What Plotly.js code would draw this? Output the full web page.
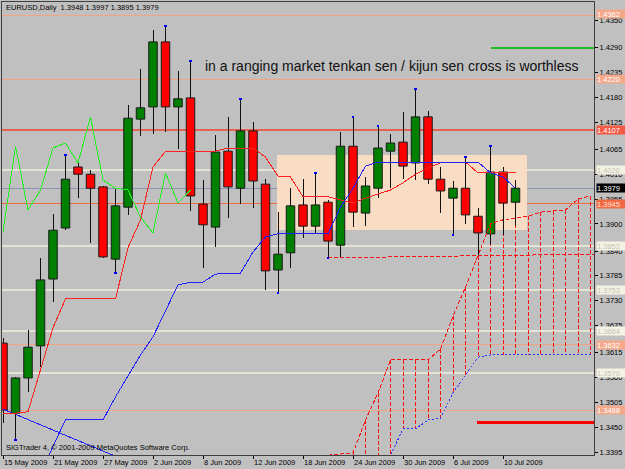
<!DOCTYPE html>
<html><head><meta charset="utf-8">
<script src="https://cdn.plot.ly/plotly-3.0.1.min.js"></script>
<style>html,body{margin:0;padding:0;background:#c0c0c0}#chart{width:625px;height:469px}
#chart .scatterlayer path{shape-rendering:crispEdges !important}
#chart .shapelayer path{shape-rendering:crispEdges}
</style>
</head><body><div id="chart"></div>
<script>
// ---------- data ----------
const symbol = 'EURUSD,Daily';
const lastQuote = [1.3948, 1.3997, 1.3895, 1.3979]; // O H L C of current bar
const dateLabels = ['15 May 2009','21 May 2009','27 May 2009','2 Jun 2009','8 Jun 2009','12 Jun 2009','18 Jun 2009','24 Jun 2009','30 Jun 2009','6 Jul 2009','10 Jul 2009'];
const dateBars = [0,4,8,12,16,20,24,28,32,36,40];
const priceTicks = [1.4350,1.4290,1.4235,1.4180,1.4125,1.4065,1.4010,1.3955,1.3900,1.3840,1.3785,1.3730,1.3675,1.3615,1.3560,1.3505,1.3450,1.3395];

const open  = [1.3636,1.3481,1.3559,1.3630,1.3778,1.3891,1.4026,1.4010,1.3982,1.3822,1.3937,1.4132,1.4159,1.4303,1.4159,1.4179,1.3944,1.3893,1.4061,1.3979,1.4106,1.3988,1.3798,1.3836,1.3942,1.3895,1.3948,1.3853,1.4072,1.3924,1.3979,1.4061,1.4081,1.4035,1.4137,1.3999,1.3957,1.3979,1.3917,1.3878,1.4015,1.3948];
const high  = [1.3647,1.3561,1.3665,1.3825,1.3922,1.4053,1.4037,1.4019,1.3984,1.3979,1.4163,1.4243,1.4329,1.4338,1.4239,1.4261,1.3997,1.4097,1.4137,1.4177,1.4126,1.3999,1.3926,1.3979,1.3999,1.4013,1.3953,1.4103,1.4137,1.4004,1.4117,1.4099,1.4148,1.4199,1.4150,1.4026,1.3995,1.4048,1.3935,1.4072,1.4026,1.3997];
const low   = [1.3459,1.3422,1.3528,1.3583,1.3727,1.3886,1.3957,1.3858,1.3825,1.3791,1.3920,1.4095,1.4099,1.4103,1.4066,1.3929,1.3802,1.3849,1.3913,1.3944,1.3935,1.3754,1.3747,1.3802,1.3869,1.3880,1.3825,1.3827,1.3893,1.3895,1.3957,1.3979,1.3999,1.3997,1.3988,1.3924,1.3875,1.3900,1.3831,1.3855,1.3875,1.3895];
const close = [1.3488,1.3559,1.3627,1.3776,1.3886,1.3999,1.4010,1.3979,1.3827,1.3940,1.4134,1.4157,1.4303,1.4159,1.4177,1.3962,1.3898,1.4059,1.3982,1.4106,1.3995,1.3796,1.3833,1.3940,1.3895,1.3942,1.3862,1.4072,1.3926,1.3984,1.4068,1.4079,1.4028,1.4137,1.3999,1.3973,1.3979,1.3920,1.3880,1.4015,1.3946,1.3979];

const tenkan = [1.3481,1.3481,1.3484,1.3577,1.3670,1.3734,1.3734,1.3734,1.3734,1.3734,1.3847,1.3909,1.4026,1.4061,1.4061,1.4061,1.4061,1.4061,1.4068,1.4068,1.4068,1.4048,1.4006,1.4004,1.3960,1.3960,1.3960,1.3953,1.3946,1.3957,1.3966,1.3975,1.3991,1.4010,1.4024,1.4035,1.4037,1.4037,1.4013,1.4013,1.4013,1.4013];
const kijun  = [null,null,null,1.3344,1.3408,1.3466,1.3466,1.3466,1.3466,1.3517,1.3565,1.3610,1.3650,1.3707,1.3765,1.3771,1.3771,1.3789,1.3790,1.3791,1.3838,1.3871,1.3878,1.3878,1.3878,1.3878,1.3878,1.3937,1.3979,1.4028,1.4037,1.4037,1.4037,1.4037,1.4037,1.4037,1.4037,1.4037,1.4037,1.4013,1.4004,1.3979];
const chikou = [1.3882,1.4072,1.3931,1.3975,1.4068,1.4079,1.4035,1.4137,1.3997,1.3979,1.3975,1.3915,1.3880,1.4013,1.3946,1.3975];
const spanStart = 26;
const spanA = [1.3388,1.3391,1.3393,1.3466,1.3526,1.3599,1.3599,1.3599,1.3599,1.3623,1.3696,1.3760,1.3829,1.3900,1.3909,1.3913,1.3917,1.3926,1.3929,1.3931,1.3955,1.3962];
const spanB = [1.3330,1.3330,1.3330,1.3330,1.3330,1.3388,1.3446,1.3446,1.3466,1.3470,1.3526,1.3565,1.3605,1.3610,1.3610,1.3610,1.3610,1.3610,1.3610,1.3610,1.3610,1.3610];

const fractalUpBars = [5,13,15,19,25,28,30,33,37,39];
const fractalDownBars = [1,9,22,26,36];

// drawn objects
const levels = [1.4362,1.4220,1.4107,1.4020,1.3979,1.3945,1.3852,1.3753,1.3664,1.3632,1.3570,1.3488];
const blueTrendX = [0,10],   blueTrendY = [1.3490,1.3374];
const redTrendX  = [26,47.3], redTrendY = [1.3825,1.3833];
const greenSegX  = [39,47.3], greenSegY = [1.4290,1.4290];
const redSegX    = [37.9,47.3], redSegY = [1.3461,1.3461];
const rectBars = [21.9,41.9], rectPrices = [1.3886,1.4053];

// ---------- styles ----------
const levelColors = ['#f2a486','#f2a486','#e8604e','#e6e2d4','#8a96b4','#f06a40','#e6e2d4','#e6e2d4','#e6e2d4','#f2a486','#e6e2d4','#f2a486'];
const levelWidths = [1,1,2,2,1,1,2,2,2,1,2,1];
const labelBg = ['#f4a88a','#f4a88a','#f05a46','#f4f2e2','#000000','#f26a45','#f4f2e2','#f4f2e2','#f4f2e2','#f4a88a','#f4f2e2','#f4a88a'];
const labelFg = ['#ffffff','#ffffff','#ffffff','#c4c4bc','#ffffff','#ffe0d0','#c4c4bc','#c4c4bc','#c4c4bc','#ffffff','#c4c4bc','#ffffff'];
const FONT = 'Liberation Sans, Arial, sans-serif';

// ---------- build ----------
const idx = open.map((_, i) => i);
const wx = [], wy = [];
idx.forEach(i => {
  const top = Math.max(open[i], close[i]), bot = Math.min(open[i], close[i]);
  wx.push(i, i, null, i, i, null);
  wy.push(high[i], top, null, bot, low[i], null);
});
const bodyBase = idx.map(i => Math.min(open[i], close[i]));
const bodyLen = idx.map(i => Math.max(Math.abs(close[i] - open[i]), 0.00003));
const bodyCol = idx.map(i => close[i] >= open[i] ? '#008000' : '#ff0000');

const spanX = spanA.map((_, i) => spanStart + i);
const hx = [], hy = [];
spanA.forEach((a, i) => { hx.push(spanX[i], spanX[i], null); hy.push(a, spanB[i], null); });

const traces = [
  {type:'bar', x: idx, y: bodyLen, base: bodyBase, width: 0.68,
   marker:{color: bodyCol, line:{color:'#1a1a1a', width:1}}, hoverinfo:'skip'},
  {type:'scatter', mode:'lines', x: hx, y: hy, line:{color:'#ff1010', width:1, dash:'4px,2px'}, hoverinfo:'skip'},
  {type:'scatter', mode:'lines', x: spanX, y: spanA, line:{color:'#ff1010', width:1, dash:'4px,2px'}},
  {type:'scatter', mode:'lines', x: spanX, y: spanB, line:{color:'#3030ff', width:1, dash:'2px,2px'}},
  {type:'scatter', mode:'lines', x: redTrendX, y: redTrendY, line:{color:'#ff1010', width:1, dash:'4px,2px'}},
  {type:'scatter', mode:'lines', x: blueTrendX, y: blueTrendY, line:{color:'#2020ff', width:1}},
  {type:'scatter', mode:'lines', x: greenSegX, y: greenSegY, line:{color:'#22bb22', width:2}},
  {type:'scatter', mode:'lines', x: redSegX, y: redSegY, line:{color:'#ff0000', width:3}},
  {type:'scatter', mode:'lines', x: wx, y: wy, line:{color:'#101010', width:1}, hoverinfo:'skip'},
  {type:'scatter', mode:'lines', x: chikou.map((_, i) => i), y: chikou, line:{color:'#22ee22', width:1}},
  {type:'scatter', mode:'lines', x: idx, y: tenkan, line:{color:'#ff2020', width:1}},
  {type:'scatter', mode:'lines', x: idx, y: kijun, line:{color:'#2020ff', width:1}},
  {type:'scatter', mode:'markers', x: fractalUpBars, y: fractalUpBars.map(i => high[i]), marker:{color:'#0000ff', size:2.5}},
  {type:'scatter', mode:'markers', x: fractalDownBars, y: fractalDownBars.map(i => low[i]), marker:{color:'#0000ff', size:2.5}}
];

const shapes = [
  {type:'rect', xref:'x', yref:'y', x0: rectBars[0], x1: rectBars[1], y0: rectPrices[0], y1: rectPrices[1],
   fillcolor:'#f9dcc4', line:{width:0}, layer:'below'}
].concat(levels.map((v, i) => ({type:'line', xref:'paper', x0:0, x1:1, yref:'y', y0:v, y1:v,
   line:{color: levelColors[i], width: levelWidths[i]}, layer:'below'})));

const annotations = [
  {xref:'paper', yref:'paper', x:0, y:1, xanchor:'left', yanchor:'top', xshift:2, yshift:1, showarrow:false,
   text: symbol + '  ' + lastQuote.map(v => v.toFixed(4)).join(' '), font:{family:FONT, size:7.5, color:'#000'}},
  {xref:'x', yref:'y', x:16, y:1.4250, xanchor:'left', yanchor:'middle', showarrow:false,
   text:'in a ranging market tenkan sen / kijun sen cross is worthless', font:{family:FONT, size:14, color:'#111'}},
  {xref:'paper', yref:'paper', x:0, y:0, xanchor:'left', yanchor:'bottom', xshift:2, yshift:1, showarrow:false,
   text:'SIGTrader 4, © 2001-2009 MetaQuotes Software Corp.', font:{family:FONT, size:7.5, color:'#000'}}
].concat(levels.map((v, i) => ({xref:'paper', yref:'y', x:1, y:v, xanchor:'left', yanchor:'middle', xshift:2, yshift: i === 0 ? 1 : 0,
   showarrow:false, text: v.toFixed(4), bgcolor: labelBg[i], width:28, height:8, borderpad:0, align:'left',
   font:{family:FONT, size:7.5, color: labelFg[i]}})));

const layout = {
  width:625, height:469, margin:{l:2, r:31, t:2, b:14},
  paper_bgcolor:'#c0c0c0', plot_bgcolor:'#c0c0c0', showlegend:false, hovermode:false,
  xaxis:{range:[-0.08, 47.28], tickvals: dateBars, ticktext: dateLabels, ticks:'outside', ticklen:3, tickcolor:'#000',
    tickangle:0, ticklabelposition:'outside right', showgrid:false, zeroline:false, showline:true, mirror:true, linecolor:'#404040', linewidth:1,
    tickfont:{family:FONT, size:7.5, color:'#000'}, fixedrange:true},
  yaxis:{side:'right', range:[1.33884, 1.43913], tickvals: priceTicks, tickformat:'.4f', ticks:'outside', ticklen:3, tickcolor:'#000',
    showgrid:false, zeroline:false, showline:true, mirror:true, linecolor:'#404040', linewidth:1,
    tickfont:{family:FONT, size:7.5, color:'#000'}, fixedrange:true},
  shapes: shapes, annotations: annotations
};

Plotly.newPlot('chart', traces, layout, {displayModeBar:false, staticPlot:true}).then(gd => {
  gd.querySelectorAll('.scatterlayer path.js-line').forEach(p => p.setAttribute('shape-rendering', 'crispEdges'));
});
</script></body></html>
